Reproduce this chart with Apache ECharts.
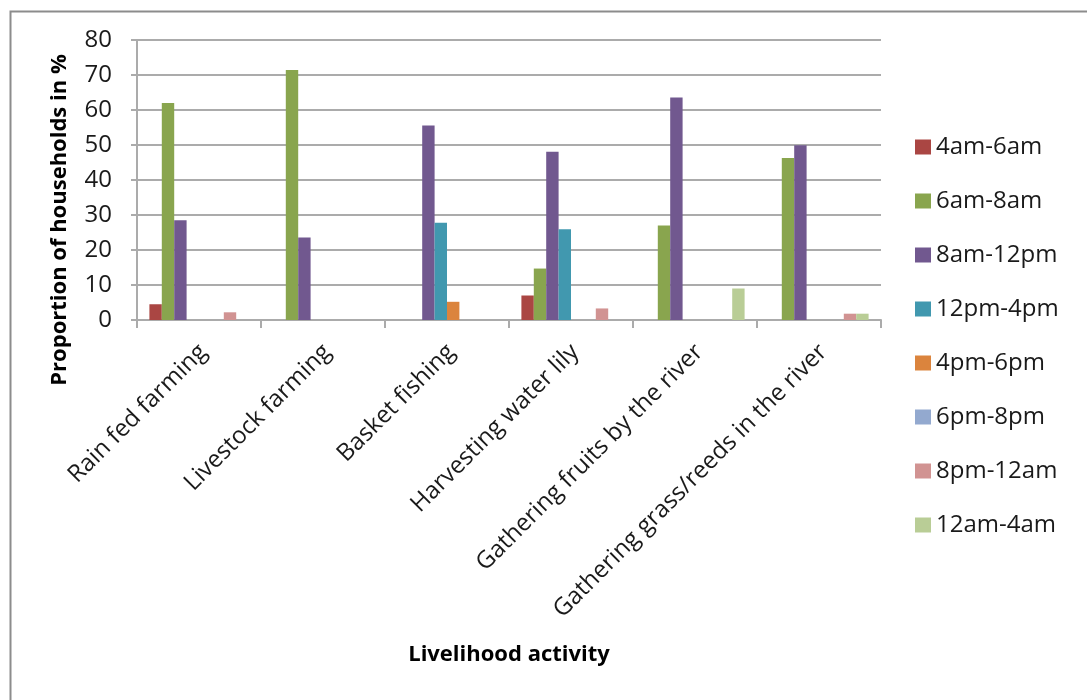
<!DOCTYPE html>
<html>
<head>
<meta charset="utf-8">
<title>Livelihood activity by time of day</title>
<script src="https://cdn.jsdelivr.net/npm/echarts@6/dist/echarts.min.js"></script>
<style>
  html, body { margin: 0; padding: 0; background: #ffffff; }
  #chart { width: 1087px; height: 700px; }
</style>
</head>
<body>
<div id="chart"></div>
<script>
// Livelihood activities (x categories)
const activities = [
  'Rain fed farming',
  'Livestock farming',
  'Basket fishing',
  'Harvesting water lily',
  'Gathering fruits by the river',
  'Gathering grass/reeds in the river'
];

// Time slots (series)
const timeSlots = ['4am-6am', '6am-8am', '8am-12pm', '12pm-4pm', '4pm-6pm', '6pm-8pm', '8pm-12am', '12am-4am'];

// Proportion of households (%) per time slot, one value per activity
const slot4to6am   = [4.5, 0, 0, 7.0, 0, 0];
const slot6to8am   = [62.0, 71.4, 0, 14.7, 27.0, 46.3];
const slot8to12pm  = [28.5, 23.6, 55.6, 48.1, 63.6, 49.9];
const slot12to4pm  = [0, 0, 27.8, 25.9, 0, 0];
const slot4to6pm   = [0, 0, 5.2, 0, 0, 0];
const slot6to8pm   = [0, 0, 0, 0, 0, 0];
const slot8to12am  = [2.2, 0, 0, 3.3, 0, 1.8];
const slot12to4am  = [0, 0, 0, 0, 9.0, 1.8];

const slotValues = [slot4to6am, slot6to8am, slot8to12pm, slot12to4pm, slot4to6pm, slot6to8pm, slot8to12am, slot12to4am];
const slotColors = ['#AA4643', '#89A54E', '#71588F', '#4198AF', '#DB843D', '#93A9CF', '#D19392', '#B9CD96'];

const FONT = '"Open Sans", "DejaVu Sans", sans-serif';
const GRID_COLOR = '#ababab';

const chart = echarts.init(document.getElementById('chart'), null, { renderer: 'canvas' });

chart.setOption({
  backgroundColor: '#ffffff',
  animation: false,
  color: slotColors,
  textStyle: { fontFamily: FONT },
  grid: { left: 137, right: 206, top: 40, bottom: 380, containLabel: false },
  legend: {
    orient: 'vertical',
    left: 910,
    top: 130,
    itemWidth: 16,
    itemHeight: 15,
    itemGap: 30,
    icon: 'rect',
    data: timeSlots,
    textStyle: { fontFamily: FONT, fontSize: 24, color: '#1a1a1a', lineHeight: 24 }
  },
  xAxis: {
    type: 'category',
    data: activities,
    boundaryGap: true,
    axisLine: { lineStyle: { color: GRID_COLOR, width: 2 } },
    axisTick: { show: true, length: 8, inside: false, lineStyle: { color: GRID_COLOR, width: 2 } },
    axisLabel: {
      rotate: 45,
      interval: 0,
      margin: 24,
      verticalAlign: 'top',
      lineHeight: 12,
      fontFamily: FONT,
      fontSize: 24,
      color: '#1a1a1a'
    }
  },
  yAxis: {
    type: 'value',
    min: 0,
    max: 80,
    interval: 10,
    axisLine: { show: true, lineStyle: { color: GRID_COLOR, width: 2 } },
    axisTick: { show: true, length: 6, inside: false, lineStyle: { color: GRID_COLOR, width: 2 } },
    splitLine: { show: true, lineStyle: { color: GRID_COLOR, width: 2 } },
    axisLabel: { margin: 25, fontFamily: FONT, fontSize: 24, color: '#1a1a1a' }
  },
  series: timeSlots.map((name, i) => ({
    name: name,
    type: 'bar',
    data: slotValues[i],
    barGap: '0%',
    barCategoryGap: '20%',
    itemStyle: { color: slotColors[i] }
  })),
  graphic: [
    {
      // outer chart frame
      type: 'rect',
      left: 8,
      top: 9,
      shape: { width: 1200, height: 800 },
      style: { fill: 'none', stroke: '#8c8c8c', lineWidth: 2 },
      silent: true
    },
    {
      type: 'text',
      x: 60,
      y: 220,
      rotation: Math.PI / 2,
      style: {
        text: 'Proportion of households in %',
        font: 'bold 22px ' + FONT,
        fill: '#000000',
        align: 'center',
        verticalAlign: 'middle'
      }
    },
    {
      type: 'text',
      x: 509,
      y: 655,
      style: {
        text: 'Livelihood activity',
        font: 'bold 22px ' + FONT,
        fill: '#000000',
        align: 'center',
        verticalAlign: 'middle'
      }
    }
  ]
});
</script>
</body>
</html>
